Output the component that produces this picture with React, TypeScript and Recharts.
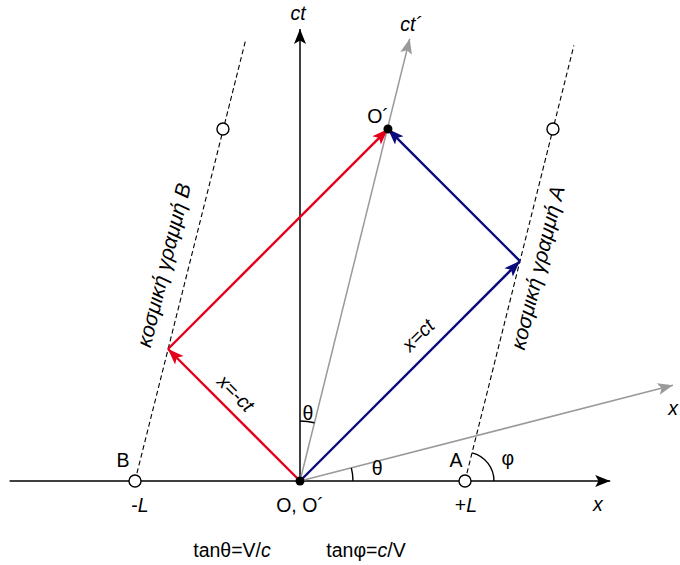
import React from 'react';
import { ScatterChart, Scatter, XAxis, YAxis } from 'recharts';

// ---------- data (diagram units: L = 1, light speed c = 1) ----------
const xAxisLine = [{ x: -1.76, y: 0 }, { x: 1.88, y: 0 }];
const ctAxisLine = [{ x: 0, y: 0 }, { x: 0, y: 2.74 }];
const ctPrimeAxis = [{ x: 0, y: 0 }, { x: 0.665, y: 2.68 }];
const xPrimeAxis = [{ x: 0, y: 0 }, { x: 2.26, y: 0.58 }];
const worldLineB = [{ x: -1, y: 0 }, { x: -0.33, y: 2.67 }];
const worldLineA = [{ x: 1, y: 0 }, { x: 1.66, y: 2.64 }];
const redOut = [{ x: 0, y: 0 }, { x: -0.8, y: 0.8 }];
const redBack = [{ x: -0.8, y: 0.8 }, { x: 0.533, y: 2.133 }];
const blueOut = [{ x: 0, y: 0 }, { x: 1.333, y: 1.333 }];
const blueBack = [{ x: 1.333, y: 1.333 }, { x: 0.533, y: 2.133 }];
const openEvents = [{ x: -1, y: 0 }, { x: 1, y: 0 }, { x: -0.467, y: 2.133 }, { x: 1.533, y: 2.133 }];
const solidEvents = [{ x: 0, y: 0 }, { x: 0.533, y: 2.133 }];

// angle marks: vertex, from-direction, to-direction
const angleMarks = [
  { x: 0, y: 0, from: ctPrimeAxis, to: ctAxisLine, key: 'thetaT' },
  { x: 0, y: 0, from: xAxisLine, to: xPrimeAxis, key: 'thetaX' },
  { x: 1, y: 0, from: xAxisLine, to: worldLineA, key: 'phi' },
];

// labels (anchor = text centre, diagram units); _..._ marks italic
const labels = [
  { x: -0.012, y: 2.835, text: '_ct_', rot: 0, big: false },
  { x: 0.673, y: 2.77, text: '_ct´_', rot: 0, big: false },
  { x: 2.262, y: 0.44, text: '_x_', rot: 0, big: false },
  { x: 1.806, y: -0.14, text: '_x_', rot: 0, big: false },
  { x: 0.473, y: 2.21, text: 'O´', rot: 0, big: false },
  { x: -0.97, y: -0.145, text: '-_L_', rot: 0, big: false },
  { x: 0, y: -0.145, text: 'O, O´', rot: 0, big: false },
  { x: 1.006, y: -0.145, text: '+_L_', rot: 0, big: false },
  { x: -1.073, y: 0.127, text: 'B', rot: 0, big: false },
  { x: 0.945, y: 0.127, text: 'A', rot: 0, big: false },
  { x: 1.26, y: 0.139, text: 'φ', rot: 0, big: false },
  { x: 0.048, y: 0.41, text: 'θ', rot: 0, big: false },
  { x: 0.467, y: 0.079, text: 'θ', rot: 0, big: false },
  { x: -0.412, y: -0.418, text: 'tanθ=V/_c_', rot: 0, big: false },
  { x: 0.4, y: -0.418, text: 'tanφ=_c_/V', rot: 0, big: false },
  { x: -0.388, y: 0.533, text: '_x=-ct_', rot: 45, big: false },
  { x: 0.715, y: 0.885, text: '_x=ct_', rot: -45, big: false },
  { x: -0.83, y: 1.31, text: '_κοσμική γραμμή B_', rot: -76, big: true },
  { x: 1.436, y: 1.295, text: '_κοσμική γραμμή A_', rot: -76, big: true },
];

// ---------- layout ----------
const W = 680;
const H = 565;
const UNIT = 165; // px per diagram unit (same on both axes)
const OX = 300;
const OY = 481;
const X_DOMAIN = [-OX / UNIT, (W - OX) / UNIT];
const Y_DOMAIN = [-(H - OY) / UNIT, OY / UNIT];

const FONT = '"Liberation Sans", Arial, Helvetica, sans-serif';
const RED = '#e3001b';
const BLUE = '#0b0b7c';
const GREY = '#9a9a9a';

type P = { x: number; y: number };

function dirAngle(seg: P[]) {
  const a = seg[seg.length - 2];
  const b = seg[seg.length - 1];
  return Math.atan2(b.y - a.y, b.x - a.x); // math angle (y up)
}

function arrowShape(seg: P[], color: string, len: number, half: number) {
  const last = seg[seg.length - 1];
  const ang = -dirAngle(seg); // screen angle
  const c = Math.cos(ang);
  const s = Math.sin(ang);
  return (props: any) => {
    const { cx, cy, payload } = props;
    if (!payload || payload.x !== last.x || payload.y !== last.y) return <g />;
    const pt = (a: number, b: number) => `${cx + a * c - b * s},${cy + a * s + b * c}`;
    const d = `M${pt(0, 0)} L${pt(-len, half)} L${pt(-len * 0.78, 0)} L${pt(-len, -half)} Z`;
    return <path d={d} fill={color} stroke="none" />;
  };
}

const noShape = () => <g />;

function renderParts(text: string) {
  const parts = text.split('_');
  return parts.map((t, i) =>
    t ? (
      <tspan key={i} fontStyle={i % 2 === 1 ? 'italic' : 'normal'}>
        {t}
      </tspan>
    ) : null
  );
}

const labelShape = (props: any) => {
  const { cx, cy, payload } = props;
  return (
    <text
      x={cx}
      y={cy}
      textAnchor="middle"
      dominantBaseline="central"
      fontFamily={FONT}
      fontSize={payload.big ? 21 : 19.5}
      fill="#000"
      transform={payload.rot ? `rotate(${payload.rot} ${cx} ${cy})` : undefined}
    >
      {renderParts(payload.text)}
    </text>
  );
};

const ARC_R: Record<string, number> = { thetaT: 60, thetaX: 53, phi: 29 };

const arcShape = (props: any) => {
  const { cx, cy, payload } = props;
  const r = ARC_R[payload.key];
  const a1 = dirAngle(payload.from);
  const a2 = dirAngle(payload.to);
  const x1 = cx + r * Math.cos(a1);
  const y1 = cy - r * Math.sin(a1);
  const x2 = cx + r * Math.cos(a2);
  const y2 = cy - r * Math.sin(a2);
  return <path d={`M${x1},${y1} A${r},${r} 0 0 0 ${x2},${y2}`} fill="none" stroke="#000" strokeWidth={1.4} />;
};

const openShape = (props: any) => (
  <circle cx={props.cx} cy={props.cy} r={6} fill="#fff" stroke="#000" strokeWidth={1.4} />
);
const solidShape = (props: any) => <circle cx={props.cx} cy={props.cy} r={4.5} fill="#000" />;

export default function App() {
  return (
    <div style={{ position: 'absolute', left: 0, top: 0, width: W, height: H, background: '#fff' }}>
      <ScatterChart width={W} height={H} margin={{ top: 0, right: 0, bottom: 0, left: 0 }}>
        <XAxis type="number" dataKey="x" domain={X_DOMAIN} allowDataOverflow hide />
        <YAxis type="number" dataKey="y" domain={Y_DOMAIN} allowDataOverflow hide />

        <Scatter data={worldLineB} line={{ stroke: '#000', strokeWidth: 1.1, strokeDasharray: '5 3' }} lineType="joint" shape={noShape} isAnimationActive={false} />
        <Scatter data={worldLineA} line={{ stroke: '#000', strokeWidth: 1.1, strokeDasharray: '5 3' }} lineType="joint" shape={noShape} isAnimationActive={false} />

        <Scatter data={xAxisLine} line={{ stroke: '#000', strokeWidth: 1.5 }} lineType="joint" shape={arrowShape(xAxisLine, '#000', 15, 6)} isAnimationActive={false} />
        <Scatter data={ctAxisLine} line={{ stroke: '#000', strokeWidth: 1.5 }} lineType="joint" shape={arrowShape(ctAxisLine, '#000', 15, 6)} isAnimationActive={false} />
        <Scatter data={ctPrimeAxis} line={{ stroke: GREY, strokeWidth: 1.5 }} lineType="joint" shape={arrowShape(ctPrimeAxis, GREY, 15, 6)} isAnimationActive={false} />
        <Scatter data={xPrimeAxis} line={{ stroke: GREY, strokeWidth: 1.5 }} lineType="joint" shape={arrowShape(xPrimeAxis, GREY, 15, 6)} isAnimationActive={false} />

        <Scatter data={redOut} line={{ stroke: RED, strokeWidth: 2.4 }} lineType="joint" shape={arrowShape(redOut, RED, 16, 6)} isAnimationActive={false} />
        <Scatter data={redBack} line={{ stroke: RED, strokeWidth: 2.4 }} lineType="joint" shape={arrowShape(redBack, RED, 16, 6)} isAnimationActive={false} />
        <Scatter data={blueOut} line={{ stroke: BLUE, strokeWidth: 2.4 }} lineType="joint" shape={arrowShape(blueOut, BLUE, 16, 6)} isAnimationActive={false} />
        <Scatter data={blueBack} line={{ stroke: BLUE, strokeWidth: 2.4 }} lineType="joint" shape={arrowShape(blueBack, BLUE, 16, 6)} isAnimationActive={false} />

        <Scatter data={angleMarks} shape={arcShape} isAnimationActive={false} />
        <Scatter data={openEvents} shape={openShape} isAnimationActive={false} />
        <Scatter data={solidEvents} shape={solidShape} isAnimationActive={false} />
        <Scatter data={labels} shape={labelShape} isAnimationActive={false} />
      </ScatterChart>
    </div>
  );
}
